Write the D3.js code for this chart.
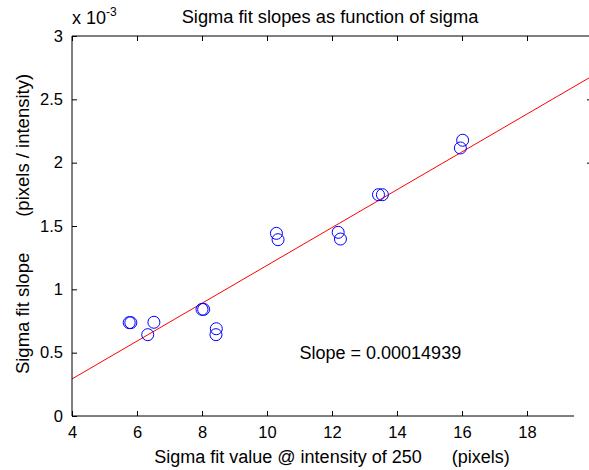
<!DOCTYPE html>
<html><head><meta charset="utf-8">
<script src="https://cdn.jsdelivr.net/npm/d3@7/dist/d3.min.js"></script>
<style>body{margin:0;background:#fff;} text{font-family:Arial,"Liberation Sans",Helvetica,sans-serif;fill:#000;white-space:pre;}</style>
</head><body>
<svg id="c" width="589" height="470"></svg>
<script>
// Data (slopes in units of 1e-3)
const sigmaValues = [5.76, 5.81, 6.52, 6.33, 8.00, 8.05, 8.44, 8.43, 10.29, 10.34, 12.19, 12.26, 13.43, 13.55, 16.02, 15.95];
const slopeValues = [0.737, 0.737, 0.740, 0.642, 0.842, 0.842, 0.689, 0.642, 1.442, 1.392, 1.450, 1.397, 1.747, 1.747, 2.177, 2.116];
const fitSlope = 0.14939;      // per 1e-3
const fitIntercept = -0.305;   // per 1e-3
const xTicks = [4, 6, 8, 10, 12, 14, 16, 18];
const yTicks = [0, 0.5, 1, 1.5, 2, 2.5, 3];
const yTickLabels = ["0", "0.5", "1", "1.5", "2", "2.5", "3"];
const titleText = "Sigma fit slopes as function of sigma";
const xLabel = "Sigma fit value @ intensity of 250      (pixels)";
const yLabel = "Sigma fit slope       (pixels / intensity)";
const slopeLabel = "Slope = 0.00014939";

(function () {
const svg = d3.select("#c");
const L = 72, T = 36, B = 416, Rfull = 592;
const x = d3.scaleLinear().domain([4, 20]).range([L, Rfull]);
const y = d3.scaleLinear().domain([0, 3]).range([B, T]);

svg.append("clipPath").attr("id","clip").append("rect")
  .attr("x", L).attr("y", T).attr("width", 589 - L).attr("height", B - T);

// fit line
svg.append("line").attr("clip-path","url(#clip)")
  .attr("x1", x(4)).attr("y1", y(fitSlope*4 + fitIntercept))
  .attr("x2", x(20)).attr("y2", y(fitSlope*20 + fitIntercept))
  .attr("stroke", "#ff0000").attr("stroke-width", 1);

// points
svg.append("g").selectAll("circle").data(sigmaValues).join("circle")
  .attr("cx", (d) => x(d)).attr("cy", (d, i) => y(slopeValues[i]))
  .attr("r", 6).attr("fill", "none").attr("stroke", "#0000ff").attr("stroke-width", 1);

// axes
const axB = d3.axisBottom(x).tickValues(xTicks).tickSize(-5).tickPadding(10).tickFormat(d3.format("d"));
const gB = svg.append("g").attr("transform", `translate(0,${B})`).call(axB);
gB.select(".domain").remove();
gB.append("line").attr("x1", L).attr("x2", 574).attr("y1", 0).attr("y2", 0).attr("stroke", "#000");
gB.selectAll("text").attr("font-size", 16.5);

const axT = d3.axisTop(x).tickValues(xTicks).tickSize(-5).tickFormat("");
const gT = svg.append("g").attr("transform", `translate(0,${T})`).call(axT);
gT.select(".domain").remove();
gT.append("line").attr("x1", L).attr("x2", 589).attr("y1", 0).attr("y2", 0).attr("stroke", "#000");

const axL = d3.axisLeft(y).tickValues(yTicks).tickSize(-5).tickPadding(9).tickFormat((d, i) => yTickLabels[i]);
const gL = svg.append("g").attr("transform", `translate(${L},0)`).call(axL);
gL.select(".domain").attr("d", `M0,${T}V${B}`);
gL.selectAll("text").attr("font-size", 16.5);

const axR = d3.axisRight(y).tickValues(yTicks.filter(v => v >= 2 && v < 3)).tickSize(-5).tickFormat("");
const gR = svg.append("g").attr("transform", `translate(${Rfull},0)`).call(axR);
gR.select(".domain").remove();

svg.selectAll(".tick line").attr("stroke", "#000");
svg.selectAll(".domain").attr("stroke", "#000");

// exponent label
const ex = svg.append("text").attr("x", L).attr("y", 24).attr("font-size", 18);
ex.append("tspan").text("x 10");
ex.append("tspan").attr("font-size", 12).attr("dy", -8).text("-3");

svg.append("text").attr("x", 330).attr("y", 23).attr("text-anchor", "middle").attr("font-size", 18.3).text(titleText);
svg.append("text").attr("x", 332).attr("y", 463).attr("text-anchor", "middle").attr("font-size", 18).text(xLabel);
svg.append("text").attr("transform", "translate(29,224) rotate(-90)").attr("text-anchor", "middle").attr("font-size", 18.5).text(yLabel);
svg.append("text").attr("x", x(11)).attr("y", y(0.5)).attr("dy", "0.35em").attr("font-size", 18).text(slopeLabel);
})();
</script>
</body></html>
